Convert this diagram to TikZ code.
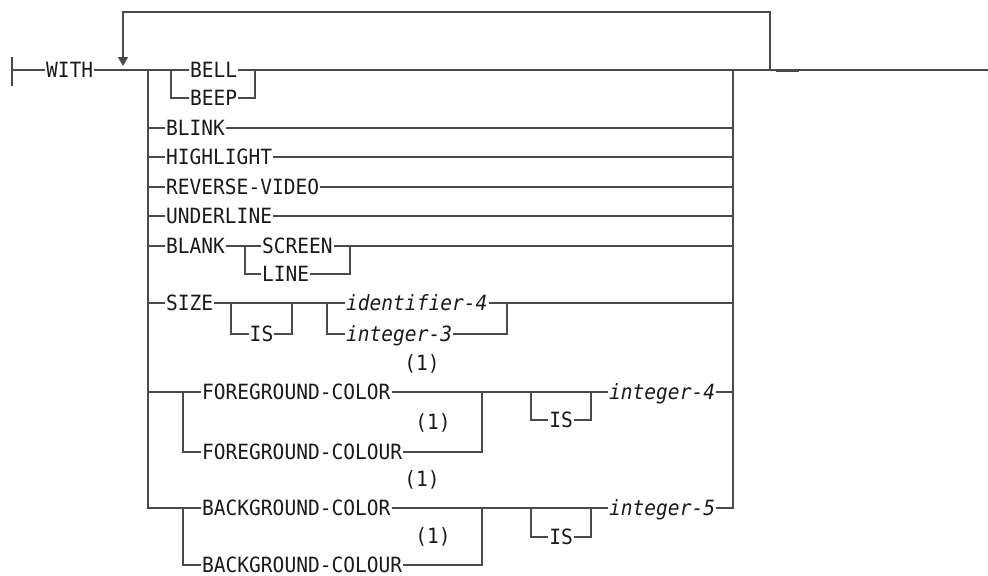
\documentclass[tikz,border=0pt]{standalone}
\usepackage{fontspec}
\newfontfamily\railfont{DejaVu Sans Mono}[ItalicFont={DejaVu Sans Mono Oblique}, FakeStretch=0.93]
\usetikzlibrary{arrows.meta}

\definecolor{trait}{HTML}{4A4A4A}
\definecolor{encre}{HTML}{1A1A1A}

\tikzset{
  rail/.style={draw=trait, line width=0.75pt},
  mot/.style={anchor=west, inner xsep=0.4pt, inner ysep=0pt,
    text height=7.6pt, text depth=0pt, text=encre,
    font=\railfont\fontsize{10.5pt}{12pt}\selectfont},
  var/.style={mot, font=\railfont\itshape\fontsize{10.5pt}{12pt}\selectfont},
  note/.style={inner sep=0pt, text=encre,
    font=\railfont\fontsize{10.5pt}{12pt}\selectfont}
}

\begin{document}
\begin{tikzpicture}[x=0.5pt, y=-0.5pt]
\useasboundingbox (0,0) rectangle (988,575);

% Points de passage
\coordinate (depart) at (12,70);
\coordinate (jA) at (148,70);
\coordinate (jZ) at (733,70);
\coordinate (boucle) at (770,70);
\coordinate (fin) at (988,70);
\coordinate (fleche) at (123,66);

% Depart
\draw[rail] (12,57) -- (12,86);

\node[mot] (with) at (45,70)
{WITH};

\draw[rail] (depart) -- (with.west);
\draw[rail] (with.east) -- (jA);

% Retour
\draw[rail, -{Triangle[width=5pt,length=4.5pt]}]
(boucle)
--
++(0,-58)
-|
(fleche);

% Fin
\draw[rail, line width=1.1pt] (776,71) -- (799,71);

% BELL / BEEP
\coordinate (jbell) at (171,70);
\coordinate (bellR) at (255,70);

\node[mot] (bell) at (189,70)
{BELL};

\node[mot] (beep) at (189,98)
{BEEP};

\draw[rail] (jA) -- (bell.west);
\draw[rail] (bell.east) -- (jZ) -- (fin);
\draw[rail] (jbell) |- (beep.west);
\draw[rail] (beep.east) -| (bellR);

% Options simples
\node[mot] (blink) at (165,128)
{BLINK};

\node[mot] (highlight) at (165,157)
{HIGHLIGHT};

\node[mot] (reverse) at (165,187)
{REVERSE-VIDEO};

\node[mot] (underline) at (165,216)
{UNDERLINE};

\draw[rail] (jA |- blink) -- (blink.west);
\draw[rail] (blink.east) -- (jZ |- blink);
\draw[rail] (jA |- highlight) -- (highlight.west);
\draw[rail] (highlight.east) -- (jZ |- highlight);
\draw[rail] (jA |- reverse) -- (reverse.west);
\draw[rail] (reverse.east) -- (jZ |- reverse);
\draw[rail] (jA |- underline) -- (underline.west);
\draw[rail] (underline.east) -- (jZ |- underline);

% BLANK
\coordinate (jblank) at (245,246);
\coordinate (blankR) at (350,246);

\node[mot] (blank) at (165,246)
{BLANK};

\node[mot] (screen) at (261,246)
{SCREEN};

\node[mot] (line) at (261,274)
{LINE};

\draw[rail] (jA |- blank) -- (blank.west);
\draw[rail] (blank.east) -- (screen.west);
\draw[rail] (screen.east) -- (jZ |- screen);
\draw[rail] (jblank) |- (line.west);
\draw[rail] (line.east) -| (blankR);

% SIZE
\coordinate (jis) at (231,303);
\coordinate (isR) at (292,303);
\coordinate (jid) at (327,303);
\coordinate (idR) at (507,303);

\node[mot] (size) at (165,303)
{SIZE};

\node[mot, anchor=center] (is1) at (261.5,334)
{IS};

\node[var] (ident) at (345,303)
{identifier-4};

\node[var] (int3) at (345,334)
{integer-3};

\draw[rail] (jA |- size) -- (size.west);
\draw[rail] (size.east) -- (ident.west);
\draw[rail] (jis) |- (is1.west);
\draw[rail] (is1.east) -| (isR);
\draw[rail] (jid) |- (int3.west);
\draw[rail] (int3.east) -| (idR);
\draw[rail] (ident.east) -- (jZ |- ident);

% FOREGROUND
\coordinate (jfg) at (183,392);
\coordinate (fgR) at (482,392);
\coordinate (jis2) at (531,392);
\coordinate (isR2) at (591,392);

\node[mot] (fgc) at (201,392)
{FOREGROUND-COLOR};

\node[mot] (fgcu) at (201,452)
{FOREGROUND-COLOUR};

\node[note] (n1) at (422,364)
{(1)};

\node[note] (n2) at (433,423)
{(1)};

\node[mot, anchor=center] (is2) at (561,420)
{IS};

\node[var] (int4) at (608,392)
{integer-4};

\draw[rail] (jA |- fgc) -- (fgc.west);
\draw[rail] (fgc.east) -- (int4.west);
\draw[rail] (jfg) |- (fgcu.west);
\draw[rail] (fgcu.east) -| (fgR);
\draw[rail] (jis2) |- (is2.west);
\draw[rail] (is2.east) -| (isR2);
\draw[rail] (int4.east) -- (jZ |- int4);

% BACKGROUND
\coordinate (jbg) at (183,508);
\coordinate (bgR) at (482,508);
\coordinate (jis3) at (531,508);
\coordinate (isR3) at (591,508);

\node[mot] (bgc) at (201,508)
{BACKGROUND-COLOR};

\node[mot] (bgcu) at (201,565)
{BACKGROUND-COLOUR};

\node[note] (n3) at (422,480)
{(1)};

\node[note] (n4) at (433,537)
{(1)};

\node[mot, anchor=center] (is3) at (561,537)
{IS};

\node[var] (int5) at (608,508)
{integer-5};

\draw[rail] (jA) -- (jA |- bgc) -- (bgc.west);
\draw[rail] (bgc.east) -- (int5.west);
\draw[rail] (jbg) |- (bgcu.west);
\draw[rail] (bgcu.east) -| (bgR);
\draw[rail] (jis3) |- (is3.west);
\draw[rail] (is3.east) -| (isR3);
\draw[rail] (int5.east) -- (jZ |- int5) -- (jZ);

\end{tikzpicture}
\end{document}
